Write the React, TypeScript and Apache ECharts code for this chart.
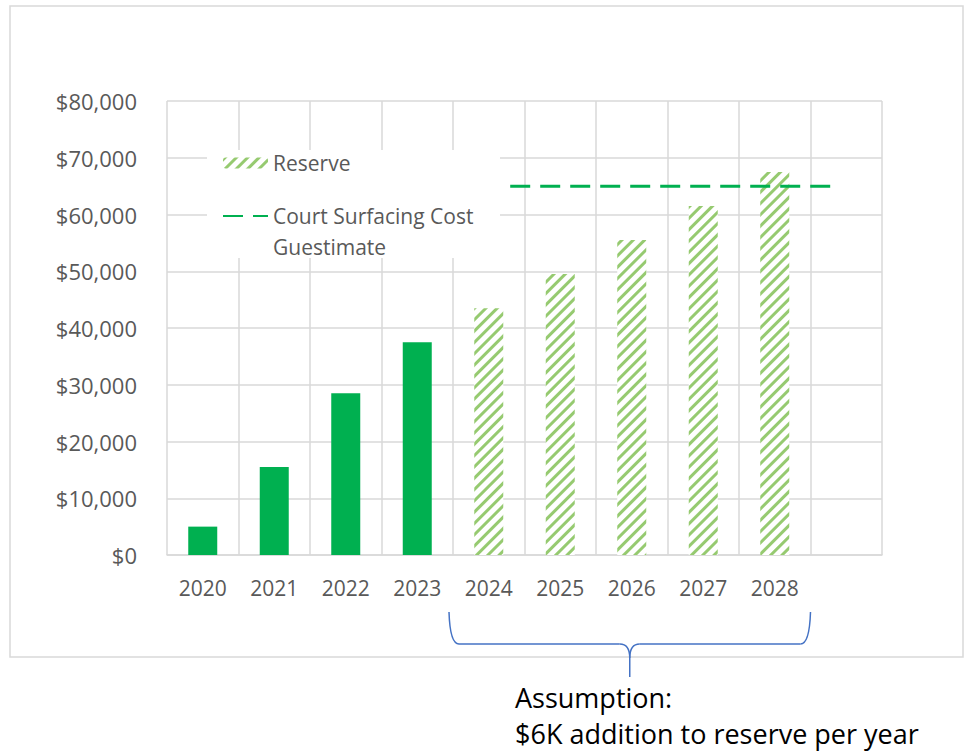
import React, { useEffect, useRef } from "react";
import * as echarts from "echarts";

const years = ["2020", "2021", "2022", "2023", "2024", "2025", "2026", "2027", "2028", ""];
const actualReserve = [5000, 15500, 28500, 37500, null, null, null, null, null, null];
const projectedReserve = [null, null, null, null, 43500, 49500, 55500, 61500, 67500, null];
const surfacingCost = 65000;
const surfacingLineSpan = [4.8, 9.4]; // in category-band units
const yTicks = { min: 0, max: 80000, interval: 10000 };

const FONT = "Open Sans";
const GREY = "#595959";

export default function App() {
  const ref = useRef<HTMLDivElement>(null);
  useEffect(() => {
    if (!ref.current) return;
    const chart = echarts.init(ref.current, null, { renderer: "svg", width: 964, height: 754 });
    const option: any = {
      animation: false,
      backgroundColor: "#ffffff",
      grid: { left: 167, right: 82, top: 101, bottom: 199 },
      xAxis: [
        {
          type: "category",
          data: years,
          axisLine: { show: true, lineStyle: { color: "#d9d9d9", width: 1.5 } },
          axisTick: { show: false },
          splitLine: { show: true, lineStyle: { color: "#d9d9d9", width: 1.5 } },
          axisLabel: { color: GREY, fontFamily: FONT, fontSize: 21, margin: 22, interval: 0 },
        },
        { type: "value", min: 0, max: 10, show: false },
      ],
      yAxis: {
        type: "value",
        min: yTicks.min,
        max: yTicks.max,
        interval: yTicks.interval,
        axisLine: { show: false },
        axisTick: { show: false },
        splitLine: { lineStyle: { color: "#d9d9d9", width: 1.5 } },
        axisLabel: {
          color: GREY,
          fontFamily: FONT,
          fontSize: 22,
          margin: 30,
          formatter: (v: number) => "$" + v.toLocaleString("en-US"),
        },
      },
      legend: {
        orient: "vertical",
        left: 222,
        top: 149,
        padding: 0,
        itemGap: 25,
        itemWidth: 45,
        itemHeight: 11,
        data: [
          { name: "Reserve" },
          { name: "Court Surfacing Cost", itemStyle: { opacity: 0 } },
        ],
        textStyle: { color: GREY, fontFamily: FONT, fontSize: 21, lineHeight: 28 },
        z: 5,
      },
      series: [
        {
          name: "Actual",
          type: "bar",
          data: actualReserve,
          barWidth: 29,
          barGap: "-100%",
          itemStyle: { color: "#00b050" },
        },
        {
          name: "Reserve",
          type: "bar",
          data: projectedReserve,
          barWidth: 29,
          barGap: "-100%",
          itemStyle: {
            color: "#ffffff",
            decal: {
              symbol: "rect",
              symbolSize: 1,
              color: "#96ca70",
              backgroundColor: "#ffffff",
              dashArrayX: [1, 0],
              dashArrayY: [2.2, 4.2],
              rotation: -Math.PI / 4,
            },
          },
        },
        {
          name: "Court Surfacing Cost",
          type: "line",
          xAxisIndex: 1,
          data: surfacingLineSpan.map((x) => [x, surfacingCost]),
          symbol: "none",
          showSymbol: false,
          itemStyle: { color: "#00b050" },
          lineStyle: { color: "#00b050", width: 3, type: [20, 10] },
          z: 3,
        },
      ],
    };
    chart.setOption(option);

    const band = 715 / years.length;
    const c2024 = chart.convertToPixel({ xAxisIndex: 0 }, "2024") as number;
    const c2028 = chart.convertToPixel({ xAxisIndex: 0 }, "2028") as number;
    const y0 = chart.convertToPixel({ yAxisIndex: 0 }, 0) as number;
    const L = c2024 - band / 2 - 4;
    const R = c2028 + band / 2;
    const M = (L + R) / 2;
    const T = y0 + 57;
    const H = y0 + 89;
    const tip = y0 + 122;
    const brace = { stroke: "#4472c4", lineWidth: 1.5, fill: null };
    const noteFont = `27px "${FONT}"`;

    chart.setOption({
      graphic: {
        elements: [
          {
            type: "rect",
            shape: { x: 10, y: 6, width: 953, height: 651 },
            style: { fill: null, stroke: "#d9d9d9", lineWidth: 1.5 },
            z: 0,
            silent: true,
          },
          {
            type: "rect",
            shape: { x: 207, y: 150, width: 293, height: 108 },
            style: { fill: "#ffffff" },
            z: 3,
            silent: true,
          },
          {
            type: "text",
            x: 273,
            y: 247,
            style: { text: "Guestimate", fill: GREY, font: `21px "${FONT}"`, verticalAlign: "middle" },
            z: 6,
          },
          { type: "bezierCurve", shape: { x1: L, y1: T, x2: L + 10, y2: H, cpx1: L + 1, cpy1: H }, style: brace, z: 6 },
          { type: "line", shape: { x1: L + 10, y1: H, x2: M - 10, y2: H }, style: brace, z: 6 },
          { type: "bezierCurve", shape: { x1: M - 10, y1: H, x2: M, y2: H + 14, cpx1: M, cpy1: H }, style: brace, z: 6 },
          { type: "bezierCurve", shape: { x1: M + 10, y1: H, x2: M, y2: H + 14, cpx1: M, cpy1: H }, style: brace, z: 6 },
          { type: "line", shape: { x1: M, y1: H + 14, x2: M, y2: tip }, style: brace, z: 6 },
          { type: "line", shape: { x1: M + 10, y1: H, x2: R - 10, y2: H }, style: brace, z: 6 },
          { type: "bezierCurve", shape: { x1: R - 10, y1: H, x2: R, y2: T, cpx1: R - 1, cpy1: H }, style: brace, z: 6 },
          {
            type: "text",
            x: 515,
            y: 697,
            style: { text: "Assumption:", fill: "#000000", font: noteFont, verticalAlign: "middle" },
            z: 6,
          },
          {
            type: "text",
            x: 515,
            y: 733,
            style: { text: "$6K addition to reserve per year", fill: "#000000", font: noteFont, verticalAlign: "middle" },
            z: 6,
          },
        ],
      },
    });
    return () => chart.dispose();
  }, []);
  return (
    <div
      ref={ref}
      style={{ position: "fixed", left: 0, top: 0, width: 964, height: 754, background: "#fff" }}
    />
  );
}
